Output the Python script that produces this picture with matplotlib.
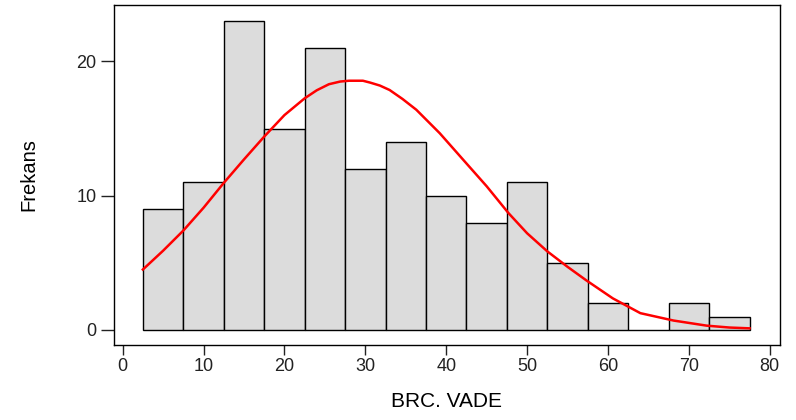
#!/usr/bin/env python3
# === Histogram of BRC. VADE with fitted normal curve ===
import numpy as np
import matplotlib
matplotlib.use("Agg")
import matplotlib.pyplot as plt

# === Data ===
bin_edges = [2.5, 7.5, 12.5, 17.5, 22.5, 27.5, 32.5, 37.5, 42.5,
             47.5, 52.5, 57.5, 62.5, 67.5, 72.5, 77.5]
counts = [9, 11, 23, 15, 21, 12, 14, 10, 8, 11, 5, 2, 0, 2, 1]

# red curve, points
curve_x = [2.5, 5.0, 7.5, 10.0, 12.5, 15.0, 17.5, 20.0, 22.5, 24.0, 25.5,
           26.9, 28.0, 29.7, 30.6, 31.8, 33.0, 34.6, 36.3, 39.2, 42.5,
           45.0, 47.7, 50.0, 52.5, 55.0, 57.3, 60.6, 64.0, 68.1, 72.2,
           75.0, 77.5]
curve_y = [4.5, 5.9, 7.4, 9.1, 10.95, 12.7, 14.4, 16.0, 17.25, 17.85, 18.3,
           18.5, 18.56, 18.56, 18.42, 18.2, 17.87, 17.2, 16.4, 14.65, 12.4,
           10.7, 8.7, 7.2, 5.85, 4.7, 3.7, 2.35, 1.25, 0.7, 0.32,
           0.18, 0.12]

x_ticks = [0, 10, 20, 30, 40, 50, 60, 70, 80]
y_ticks = [0, 10, 20]

plt.rcParams['font.family'] = ['Liberation Sans', 'DejaVu Sans']

fig = plt.figure(figsize=(7.96, 4.2), dpi=100)
ax = fig.add_axes([0.1428, 0.1786, 0.8375, 0.8095])

widths = np.diff(bin_edges)
ax.bar(bin_edges[:-1], counts, width=widths, align='edge',
       color='#dcdcdc', edgecolor='black', linewidth=1.0, zorder=2)
ax.plot(curve_x, curve_y, color='#ff0000', linewidth=1.8, zorder=3,
        solid_joinstyle='round')

ax.set_xlim(-1.11, 81.3)
ax.set_ylim(-1.12, 24.2)
ax.set_xticks(x_ticks)
ax.set_yticks(y_ticks)

for s in ax.spines.values():
    s.set_linewidth(1.0)
    s.set_color('black')

ax.tick_params(axis='y', direction='out', length=9.5, width=1.0, pad=3,
               labelsize=13, colors='#222222')
ax.tick_params(axis='x', direction='out', length=7.5, width=1.0, pad=2,
               labelsize=13, colors='#222222')

ax.set_xlabel('BRC. VADE', fontsize=15, labelpad=12)
ax.set_ylabel('Frekans', fontsize=14.5, labelpad=27)

fig.savefig('out.png', dpi=100)
